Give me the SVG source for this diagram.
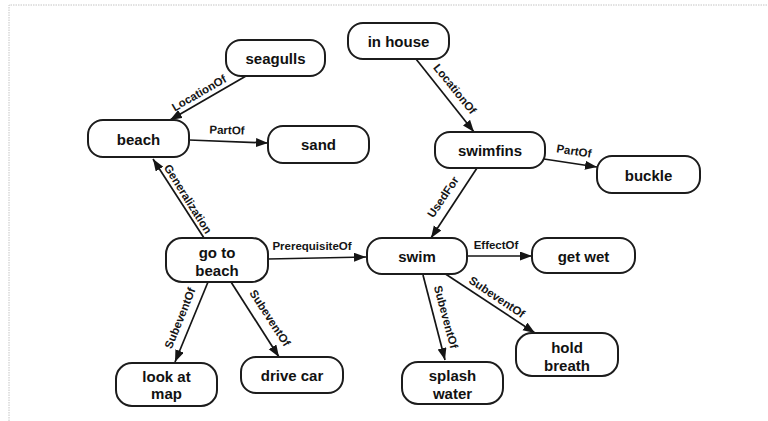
<svg xmlns="http://www.w3.org/2000/svg" width="768" height="421" viewBox="0 0 768 421">
  <style>
    .node rect { fill: #ffffff; stroke: #1c1c1c; stroke-width: 2; }
    .node text { font-family: "Liberation Sans", Arial, sans-serif; font-size: 15px; font-weight: bold; fill: #111111; text-anchor: middle; }
    .edge { stroke: #151515; stroke-width: 1.7; fill: none; marker-end: url(#arrow); }
    .lbl { font-family: "Liberation Sans", Arial, sans-serif; font-size: 11.5px; font-weight: bold; fill: #151515; text-anchor: middle; }
    .frame { stroke: #c4c4c4; stroke-width: 1; stroke-dasharray: 1.5 1; fill: none; }
  </style>
  <defs>
    <marker id="arrow" markerUnits="userSpaceOnUse" markerWidth="13" markerHeight="10" refX="12" refY="4.5" orient="auto">
      <path d="M0,0 L12,4.5 L0,9 z" fill="#151515"/>
    </marker>
  </defs>

  <rect width="768" height="421" fill="#ffffff"/>
  <!-- page frame: top and left rules -->
  <path class="frame" d="M9,421 V5 H768"/>

  <g id="connectors">
    <line class="edge" x1="246" y1="76" x2="170" y2="120"/>
    <line class="edge" x1="189" y1="140" x2="268" y2="143"/>
    <line class="edge" x1="204" y1="238" x2="153" y2="159"/>
    <line class="edge" x1="416" y1="59" x2="474" y2="132"/>
    <line class="edge" x1="544" y1="159" x2="597" y2="167"/>
    <line class="edge" x1="477" y1="168" x2="431" y2="238"/>
    <line class="edge" x1="268" y1="259" x2="366" y2="257"/>
    <line class="edge" x1="467" y1="256" x2="532" y2="256"/>
    <line class="edge" x1="423" y1="275" x2="445" y2="360"/>
    <line class="edge" x1="444" y1="273" x2="535" y2="333"/>
    <line class="edge" x1="208" y1="282" x2="175" y2="362"/>
    <line class="edge" x1="231" y1="282" x2="279" y2="357"/>

    <g transform="translate(199,93) rotate(-30)"><text class="lbl" x="0" y="4">LocationOf</text></g>
    <g transform="translate(227,130) rotate(2)"><text class="lbl" x="0" y="4">PartOf</text></g>
    <g transform="translate(188,199) rotate(58)"><text class="lbl" x="0" y="4">Generalization</text></g>
    <g transform="translate(455,89) rotate(51)"><text class="lbl" x="0" y="4">LocationOf</text></g>
    <g transform="translate(574,151) rotate(9)"><text class="lbl" x="0" y="4">PartOf</text></g>
    <g transform="translate(443,197) rotate(-56)"><text class="lbl" x="0" y="4">UsedFor</text></g>
    <g transform="translate(312,246)"><text class="lbl" x="0" y="4">PrerequisiteOf</text></g>
    <g transform="translate(496,245)"><text class="lbl" x="0" y="4">EffectOf</text></g>
    <g transform="translate(446,317) rotate(75)"><text class="lbl" x="0" y="4">SubeventOf</text></g>
    <g transform="translate(497,297) rotate(34)"><text class="lbl" x="0" y="4">SubeventOf</text></g>
    <g transform="translate(180,318) rotate(-68)"><text class="lbl" x="0" y="4">SubeventOf</text></g>
    <g transform="translate(270,318) rotate(57)"><text class="lbl" x="0" y="4">SubeventOf</text></g>
  </g>

  <g id="seagulls" class="node">
    <rect x="226" y="40" width="99" height="36" rx="15"/>
    <text x="275.5" y="64">seagulls</text>
  </g>
  <g id="beach" class="node">
    <rect x="88" y="120" width="101" height="37" rx="15"/>
    <text x="138.5" y="144.5">beach</text>
  </g>
  <g id="sand" class="node">
    <rect x="268" y="126" width="101" height="37" rx="15"/>
    <text x="318.5" y="150">sand</text>
  </g>
  <g id="in-house" class="node">
    <rect x="348" y="23" width="101" height="36" rx="15"/>
    <text x="398.5" y="47">in house</text>
  </g>
  <g id="swimfins" class="node">
    <rect x="435" y="132" width="110" height="36" rx="15"/>
    <text x="490" y="156">swimfins</text>
  </g>
  <g id="buckle" class="node">
    <rect x="597" y="156" width="103" height="37" rx="15"/>
    <text x="648.5" y="180.5">buckle</text>
  </g>
  <g id="go-to-beach" class="node">
    <rect x="166" y="238" width="102" height="44" rx="16"/>
    <text x="217" y="258">go to</text>
    <text x="217" y="276">beach</text>
  </g>
  <g id="swim" class="node">
    <rect x="367" y="238" width="100" height="36" rx="15"/>
    <text x="417" y="262">swim</text>
  </g>
  <g id="get-wet" class="node">
    <rect x="532" y="238" width="103" height="35" rx="15"/>
    <text x="583.5" y="261.5">get wet</text>
  </g>
  <g id="look-at-map" class="node">
    <rect x="116" y="363" width="101" height="43" rx="16"/>
    <text x="166.5" y="381.5">look at</text>
    <text x="166.5" y="399">map</text>
  </g>
  <g id="drive-car" class="node">
    <rect x="241" y="357" width="102" height="36" rx="15"/>
    <text x="292" y="381">drive car</text>
  </g>
  <g id="splash-water" class="node">
    <rect x="402" y="362" width="101" height="42" rx="16"/>
    <text x="452.5" y="381">splash</text>
    <text x="452.5" y="399">water</text>
  </g>
  <g id="hold-breath" class="node">
    <rect x="516" y="333" width="102" height="43" rx="16"/>
    <text x="567" y="352.5">hold</text>
    <text x="567" y="370.5">breath</text>
  </g>
</svg>
